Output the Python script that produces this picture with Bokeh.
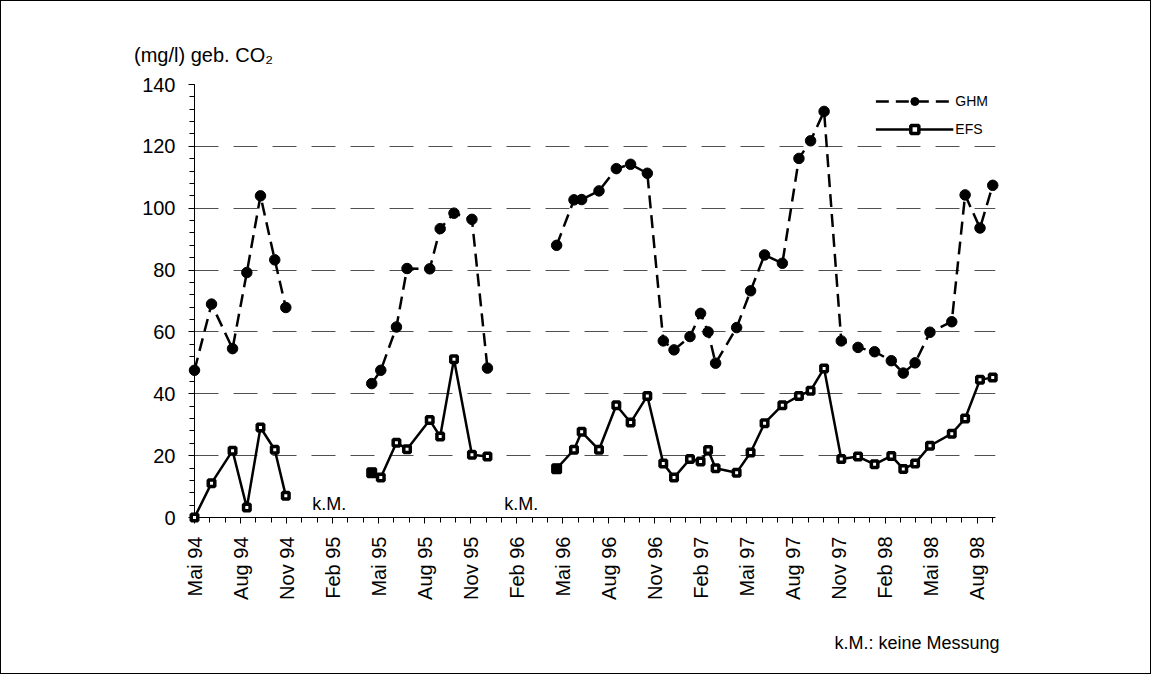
import math
import numpy as np
from bokeh.plotting import figure
from bokeh.models import Range1d, FixedTicker, SingleIntervalTicker
from bokeh.core.properties import value
from bokeh.embed import file_html
from bokeh.resources import INLINE

FONT = "Liberation Sans"

# x tick labels (every 3 months, starting Mai 94)
x_tick_labels = ["Mai 94", "Aug 94", "Nov 94", "Feb 95", "Mai 95", "Aug 95",
                 "Nov 95", "Feb 96", "Mai 96", "Aug 96", "Nov 96", "Feb 97",
                 "Mai 97", "Aug 97", "Nov 97", "Feb 98", "Mai 98", "Aug 98"]

# sampling time in months after Mai 94 (None = no measurement / gap)
t_month = [0.00, 1.11, 2.48, 3.41, 4.30, 5.23, 5.95, None,
           11.55, 12.14, 13.16, 13.85, 15.33, 16.01, 16.91, 18.08, 19.09, None,
           23.60, 24.73, 25.23, 26.36, 27.49, 28.42, 29.51, 30.55, 31.25, 32.29,
           32.98, 33.47, 33.96, 35.33, 36.24, 37.15, 38.31, 39.39, 40.15, 41.03,
           42.15, 43.24, 44.32, 45.41, 46.19, 46.96, 47.93, 49.35, 50.22, 51.19, 52.02]

# gebundene Kohlensäure (mg/l)
ghm = [47.6, 69.0, 54.6, 79.2, 104.0, 83.3, 67.9, None,
       43.3, 47.6, 61.6, 80.5, 80.4, 93.4, 98.4, 96.4, 48.3, None,
       88.0, 102.7, 102.8, 105.6, 112.8, 114.2, 111.3, 57.1, 54.2, 58.5,
       66.0, 60.0, 49.9, 61.4, 73.3, 84.9, 82.2, 116.1, 121.8, 131.3,
       57.1, 55.0, 53.6, 50.7, 46.7, 50.0, 59.9, 63.3, 104.3, 93.6, 107.4]

efs = [0.0, 11.1, 21.6, 3.2, 29.1, 21.9, 7.0, None,
       14.5, 12.9, 24.2, 22.1, 31.5, 26.2, 51.2, 20.3, 19.7, None,
       15.8, 21.9, 27.7, 21.9, 36.3, 30.7, 39.3, 17.5, 12.9, 18.9,
       18.1, 21.8, 15.9, 14.5, 21.0, 30.5, 36.3, 39.3, 41.0, 48.2,
       18.9, 19.7, 17.2, 19.9, 15.7, 17.5, 23.2, 27.1, 32.0, 44.5, 45.3]

# "keine Messung" markers
km_x = [8.78, 21.3]
km_y = [4.5, 4.5]
km_text = ["k.M.", "k.M."]

# axis caption and note
caption_text = "(mg/l) geb. CO\u2082"
note_text = "k.M.: keine Messung"

t = np.array(t_month, dtype=float)
g = np.array(ghm, dtype=float)
e = np.array(efs, dtype=float)

# first point of a new measurement period after a gap -> drawn filled
restart = [i for i in range(1, len(e)) if np.isnan(e[i - 1]) and not np.isnan(e[i])]

p = figure(width=1151, height=674, output_backend="svg", toolbar_location=None,
           x_range=Range1d(0, 52.2), y_range=Range1d(0, 140),
           min_border_left=193, min_border_right=157,
           min_border_top=83, min_border_bottom=158,
           styles={"border": "1px solid black"})
p.outline_line_color = None
p.background_fill_color = "white"
p.border_fill_color = "white"

# axes
xa = p.xaxis[0]
xa.ticker = FixedTicker(ticks=list(range(0, 3 * len(x_tick_labels), 3)),
                        minor_ticks=list(range(0, 53)))
xa.major_label_overrides = {3 * i: lab for i, lab in enumerate(x_tick_labels)}
xa.major_label_orientation = math.pi / 2

ya = p.yaxis[0]
ya.ticker = SingleIntervalTicker(interval=20, num_minor_ticks=5)

for ax, standoff in ((xa, 13), (ya, 13)):
    ax.axis_line_color = "black"
    ax.axis_line_width = 1
    ax.major_tick_line_color = "black"
    ax.minor_tick_line_color = "black"
    ax.major_tick_out = 6
    ax.major_tick_in = 0
    ax.minor_tick_out = 5
    ax.minor_tick_in = 0
    ax.major_label_text_font = FONT
    ax.major_label_text_font_size = "20px"
    ax.major_label_text_color = "black"
    ax.major_label_standoff = standoff

p.xgrid.visible = False
yg = p.ygrid[0]
yg.grid_line_color = "#505050"
yg.grid_line_width = 1.2
yg.grid_line_dash = "24 15"

# series
p.line(t, g, line_color="black", line_width=2.5, line_dash="13 7", legend_label="GHM")
r1 = p.scatter(t, g, marker="circle", size=10.5, fill_color="black", line_color="black",
               legend_label="GHM")
p.line(t, e, line_color="black", line_width=2.5, legend_label="EFS")
r2 = p.scatter(t, e, marker="square", size=6.5, fill_color="white", line_color="black",
               line_width=3.5, legend_label="EFS")
r3 = p.scatter(t[restart], e[restart], marker="square", size=8, fill_color="black",
               line_color="black", line_width=3)
for r in (r1, r2, r3):
    r.level = "overlay"

# k.M. texts inside the plot
p.text(x=km_x, y=km_y, text=km_text, text_font=value(FONT),
       text_font_size=value("18px"), text_align="center", text_baseline="middle",
       text_color="black")

# caption (top left) and note (bottom right), drawn on the overlay level
cap = p.text(x=[-3.94], y=[149.4], text=[caption_text], text_font=value(FONT),
             text_font_size=value("20px"), text_align="left", text_baseline="middle",
             text_color="black")
nt = p.text(x=[52.46], y=[-40.7], text=[note_text], text_font=value(FONT),
            text_font_size=value("18px"), text_align="right", text_baseline="middle",
            text_color="black")
cap.level = "overlay"
nt.level = "overlay"

lg = p.legend[0]
lg.location = "top_right"
lg.border_line_color = None
lg.background_fill_alpha = 0
lg.label_text_font = FONT
lg.label_text_font_size = "14px"
lg.label_text_color = "black"
lg.glyph_width = 78
lg.glyph_height = 20
lg.label_standoff = 2
lg.spacing = 8
lg.padding = 0
lg.margin = 7

open("out.html", "w").write(file_html(p, INLINE))
